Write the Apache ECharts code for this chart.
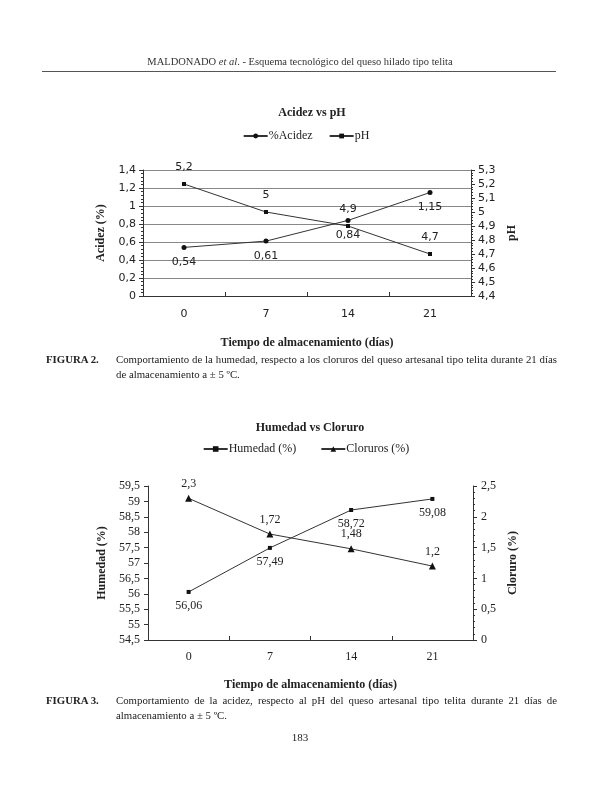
<!DOCTYPE html>
<html>
<head>
<meta charset="utf-8">
<script src="https://cdn.jsdelivr.net/npm/echarts@6/dist/echarts.min.js"></script>
<style>
  html, body { margin:0; padding:0; background:#fff; }
  #page { position:relative; width:612px; height:792px; overflow:hidden; }
  #chart { position:absolute; left:0; top:0; width:612px; height:792px; }
  .t { position:absolute; font-family:"Liberation Serif","DejaVu Serif",serif; color:#222; white-space:nowrap; }
  .j { text-align:justify; text-align-last:justify; }
</style>
</head>
<body>
<div id="page">
  <div id="chart"></div>
  <div class="t" style="left:0;width:600px;top:56px;font-size:10.5px;text-align:center;color:#333;">MALDONADO <i>et al</i>. - Esquema tecnológico del queso hilado tipo telita</div>
  <div style="position:absolute;left:42px;top:71px;width:514px;height:1px;background:#555;"></div>

  <div class="t" style="left:46px;top:353px;font-size:10.8px;font-weight:bold;">FIGURA 2.</div>
  <div class="t j" style="left:116px;top:353px;width:441px;font-size:10.8px;">Comportamiento de la humedad, respecto a los cloruros del queso artesanal tipo telita durante 21 días</div>
  <div class="t" style="left:116px;top:368px;font-size:10.8px;">de almacenamiento a ± 5 ºC.</div>

  <div class="t" style="left:46px;top:694px;font-size:10.8px;font-weight:bold;">FIGURA 3.</div>
  <div class="t j" style="left:116px;top:694px;width:441px;font-size:10.8px;">Comportamiento de la acidez, respecto al pH del queso artesanal tipo telita durante 21 días de</div>
  <div class="t" style="left:116px;top:709px;font-size:10.8px;">almacenamiento a ± 5 ºC.</div>

  <div class="t" style="left:0;width:600px;top:731px;font-size:11px;text-align:center;">183</div>
</div>
<script>
// ---- Data ----
const days = ['0', '7', '14', '21'];
const acidez = [0.54, 0.61, 0.84, 1.15];
const ph = [5.2, 5.0, 4.9, 4.7];
const humedad = [56.06, 57.49, 58.72, 59.08];
const cloruros = [2.3, 1.72, 1.48, 1.2];

const comma = v => String(+(+v).toFixed(2)).replace('.', ',');
const SANS = '"DejaVu Sans", sans-serif';
const SERIF = '"Liberation Serif", serif';
const INK = '#222';
const LINE = '#333';

function valAxis(o) {
  return Object.assign({
    type: 'value',
    axisLine: { show: true, lineStyle: { color: '#333', width: 1 } },
    axisTick: { show: true, length: 4, lineStyle: { color: '#333' } },
    minorTick: { show: true, splitNumber: 5, length: 2, lineStyle: { color: '#333' } },
    splitLine: { show: false },
    nameLocation: 'middle',
    nameRotate: 90,
  }, o);
}

const chart = echarts.init(document.getElementById('chart'), null, { renderer: 'canvas' });
chart.setOption({
  animation: false,
  backgroundColor: 'transparent',
  title: [
    { text: 'Acidez vs pH', left: 307, top: 102, textAlign: 'center',
      textStyle: { fontFamily: SERIF, fontSize: 12, fontWeight: 'bold', color: INK } },
    { text: 'Humedad vs Cloruro', left: 305, top: 417, textAlign: 'center',
      textStyle: { fontFamily: SERIF, fontSize: 12, fontWeight: 'bold', color: INK } }
  ],
  legend: [
    { data: ['%Acidez', 'pH'], top: 125, left: 'center', itemWidth: 24, itemHeight: 6, itemGap: 16,
      textStyle: { fontFamily: SERIF, fontSize: 12, color: INK, padding: [0,0,0,-4] } },
    { data: ['Humedad (%)', 'Cloruros (%)'], top: 438, left: 'center', itemWidth: 24, itemHeight: 7, itemGap: 24,
      textStyle: { fontFamily: SERIF, fontSize: 12, color: INK, padding: [0,0,0,-4] } }
  ],
  grid: [
    { left: 143, right: 141, top: 170, bottom: 496 },
    { left: 148, right: 139, top: 486, bottom: 152 }
  ],
  xAxis: [
    { type: 'category', gridIndex: 0, data: days, boundaryGap: true,
      axisLine: { lineStyle: { color: '#333' } },
      axisTick: { show: true, length: 4, inside: true, lineStyle: { color: '#333' } },
      axisLabel: { fontFamily: SANS, fontSize: 11, color: INK, margin: 13 },
      name: 'Tiempo de almacenamiento (días)', nameLocation: 'middle', nameGap: 41,
      nameTextStyle: { fontFamily: SERIF, fontSize: 12, fontWeight: 'bold', color: INK } },
    { type: 'category', gridIndex: 1, data: days, boundaryGap: true,
      axisLine: { lineStyle: { color: '#333' } },
      axisTick: { show: true, length: 4, inside: true, lineStyle: { color: '#333' } },
      axisLabel: { fontFamily: SERIF, fontSize: 12, color: INK, margin: 11 },
      name: 'Tiempo de almacenamiento (días)', nameLocation: 'middle', nameGap: 39,
      nameTextStyle: { fontFamily: SERIF, fontSize: 12, fontWeight: 'bold', color: INK } }
  ],
  yAxis: [
    valAxis({ gridIndex: 0, position: 'left', min: 0, max: 1.4, interval: 0.2,
      splitLine: { show: true, lineStyle: { color: '#888', width: 1 } },
      axisLabel: { fontFamily: SANS, fontSize: 11, color: INK, formatter: comma, margin: 7 },
      name: 'Acidez (%)', nameGap: 36,
      nameTextStyle: { fontFamily: SERIF, fontSize: 12, fontWeight: 'bold', color: INK } }),
    valAxis({ gridIndex: 0, position: 'right', min: 4.4, max: 5.3, interval: 0.1,
      axisLabel: { fontFamily: SANS, fontSize: 11, color: INK, formatter: comma, margin: 7 },
      name: 'pH', nameGap: 34,
      nameTextStyle: { fontFamily: SERIF, fontSize: 12, fontWeight: 'bold', color: INK } }),
    valAxis({ gridIndex: 1, position: 'left', min: 54.5, max: 59.5, interval: 0.5,
      minorTick: { show: false },
      axisLabel: { fontFamily: SERIF, fontSize: 12, color: INK, formatter: comma, margin: 8 },
      name: 'Humedad (%)', nameGap: 40,
      nameTextStyle: { fontFamily: SERIF, fontSize: 12, fontWeight: 'bold', color: INK } }),
    valAxis({ gridIndex: 1, position: 'right', min: 0, max: 2.5, interval: 0.5,
      axisLabel: { fontFamily: SERIF, fontSize: 12, color: INK, formatter: comma, margin: 8 },
      name: 'Cloruro (%)', nameGap: 34,
      nameTextStyle: { fontFamily: SERIF, fontSize: 12, fontWeight: 'bold', color: INK } })
  ],
  series: [
    { name: '%Acidez', type: 'line', xAxisIndex: 0, yAxisIndex: 0, data: acidez,
      symbol: 'circle', symbolSize: 5, lineStyle: { color: LINE, width: 1 }, itemStyle: { color: '#111' },
      label: { show: true, position: 'bottom', distance: 7, formatter: p => comma(p.value),
        fontFamily: SANS, fontSize: 11, color: INK } },
    { name: 'pH', type: 'line', xAxisIndex: 0, yAxisIndex: 1, data: ph,
      symbol: 'rect', symbolSize: 4, lineStyle: { color: LINE, width: 1 }, itemStyle: { color: '#111' },
      label: { show: true, position: 'top', distance: 9, formatter: p => comma(p.value),
        fontFamily: SANS, fontSize: 11, color: INK } },
    { name: 'Humedad (%)', type: 'line', xAxisIndex: 1, yAxisIndex: 2, data: humedad,
      symbol: 'rect', symbolSize: 4, lineStyle: { color: LINE, width: 1 }, itemStyle: { color: '#111' },
      label: { show: true, position: 'bottom', distance: 6, formatter: p => comma(p.value),
        fontFamily: SERIF, fontSize: 12, color: INK } },
    { name: 'Cloruros (%)', type: 'line', xAxisIndex: 1, yAxisIndex: 3, data: cloruros,
      symbol: 'triangle', symbolSize: 7, lineStyle: { color: LINE, width: 1 }, itemStyle: { color: '#111' },
      label: { show: true, position: 'top', distance: 5, formatter: p => comma(p.value),
        fontFamily: SERIF, fontSize: 12, color: INK } }
  ]
});
</script>
</body>
</html>
